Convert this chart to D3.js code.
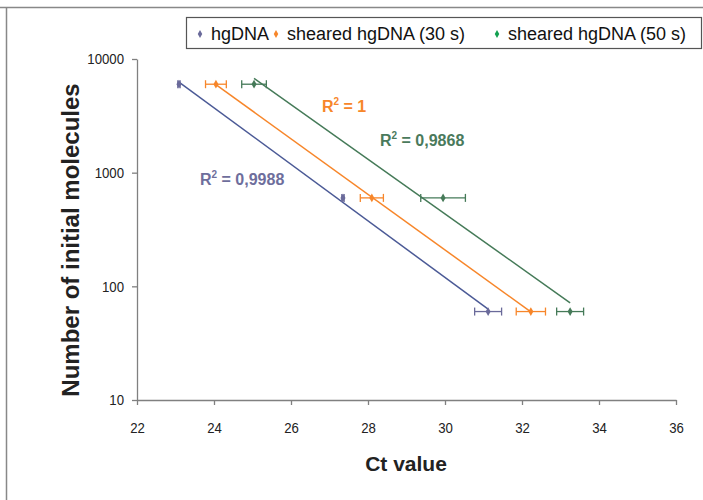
<!DOCTYPE html>
<html>
<head>
<meta charset="utf-8">
<script src="https://cdn.jsdelivr.net/npm/d3@7"></script>
<style>
  body { margin: 0; background: #fff; }
  text { font-family: "Liberation Sans", Arial, sans-serif; }
</style>
</head>
<body>
<svg id="chart" width="703" height="500"></svg>
<script>
var seriesNames = ["hgDNA", "sheared hgDNA (30 s)", "sheared hgDNA (50 s)"];
var molecules = [6000, 600, 60];
var ctHg = [23.09, 27.35, 31.12];
var ctHgErr = [0.03, 0.03, 0.35];
var ct30 = [24.05, 28.1, 32.23];
var ct30Err = [0.27, 0.3, 0.38];
var ct50 = [25.04, 29.95, 33.25];
var ct50Err = [0.32, 0.58, 0.35];
var r2Labels = ["0,9988", "1", "0,9868"];
var xTicks = [22, 24, 26, 28, 30, 32, 34, 36];
var yTicks = [10, 100, 1000, 10000];

var lineColors = ["#4b5a96", "#f7862a", "#457a58"];
var markColors = ["#6a6a9a", "#f7862a", "#457a58"];
var legendColors = ["#6a6a9a", "#f7862a", "#12a050"];
var labelColors = ["#6e6e9c", "#f7862a", "#4a7a5c"];

var width = 703, height = 500;
var plotLeft = 137, plotRight = 676, plotTop = 59, plotBottom = 400;

var svg = d3.select("#chart");

// frame lines
svg.append("line").attr("x1", 0).attr("x2", width).attr("y1", 7.5).attr("y2", 7.5)
  .attr("stroke", "#888").attr("stroke-width", 1.5);
svg.append("line").attr("x1", 6.5).attr("x2", 6.5).attr("y1", 7).attr("y2", height)
  .attr("stroke", "#888").attr("stroke-width", 1.5);

var x = d3.scaleLinear().domain([22, 36]).range([plotLeft, plotRight]);
var y = d3.scaleLog().domain([10, 10000]).range([plotBottom, plotTop]);

var xAxis = svg.append("g")
  .attr("transform", "translate(0," + plotBottom + ")")
  .call(d3.axisBottom(x).tickValues(xTicks).tickSize(5).tickSizeOuter(0).tickPadding(17));
var yAxis = svg.append("g")
  .attr("transform", "translate(" + plotLeft + ",0)")
  .call(d3.axisLeft(y).tickValues(yTicks).tickFormat(d3.format("d")).tickSize(5).tickSizeOuter(0).tickPadding(9.8));

[xAxis, yAxis].forEach(function(a){
  a.select(".domain").attr("stroke", "#808080").attr("stroke-width", 1.3);
  a.selectAll(".tick line").attr("stroke", "#808080").attr("stroke-width", 1.3);
  a.selectAll(".tick text").attr("fill", "#222").attr("font-size", "15px")
    .attr("transform", "scale(0.88,1)");
});

svg.append("text")
  .attr("x", 406).attr("y", 471)
  .attr("text-anchor", "middle")
  .attr("font-size", "21px").attr("font-weight", "bold").attr("fill", "#222")
  .text("Ct value");

svg.append("text")
  .attr("transform", "translate(79,240) rotate(-90)")
  .attr("text-anchor", "middle")
  .attr("font-size", "24px").attr("font-weight", "bold").attr("fill", "#222")
  .text("Number of initial molecules");

var series = [
  { ct: ctHg, err: ctHgErr },
  { ct: ct30, err: ct30Err },
  { ct: ct50, err: ct50Err }
];

// log-linear trendline (least squares on log10 of molecules)
function trend(ct) {
  var ly = molecules.map(function(m){ return Math.log10(m); });
  var mx = d3.mean(ct), my = d3.mean(ly);
  var sxy = 0, sxx = 0;
  ct.forEach(function(c, i){ sxy += (c - mx) * (ly[i] - my); sxx += (c - mx) * (c - mx); });
  var b = sxy / sxx;
  var x0 = d3.min(ct), x1 = d3.max(ct);
  return [[x0, Math.pow(10, my + b * (x0 - mx))], [x1, Math.pow(10, my + b * (x1 - mx))]];
}

var diamond = d3.symbol().type(d3.symbolDiamond).size(22);

series.forEach(function(s, k){
  var g = svg.append("g");
  var t = trend(s.ct);
  g.append("line")
    .attr("x1", x(t[0][0])).attr("y1", y(t[0][1]))
    .attr("x2", x(t[1][0])).attr("y2", y(t[1][1]))
    .attr("stroke", lineColors[k]).attr("stroke-width", 1.5);

  s.ct.forEach(function(c, i){
    var cy = y(molecules[i]);
    var xa = x(c - s.err[i]), xb = x(c + s.err[i]);
    g.append("line").attr("x1", xa).attr("x2", xb).attr("y1", cy).attr("y2", cy)
      .attr("stroke", markColors[k]).attr("stroke-width", 1.3);
    [xa, xb].forEach(function(xe){
      g.append("line").attr("x1", xe).attr("x2", xe).attr("y1", cy - 4).attr("y2", cy + 4)
        .attr("stroke", markColors[k]).attr("stroke-width", 1.3);
    });
    g.append("path").attr("d", diamond)
      .attr("transform", "translate(" + x(c) + "," + cy + ")")
      .attr("fill", markColors[k]);
  });
});

// R squared labels
var r2Pos = [[200, 185], [322, 112], [380, 146]];
r2Labels.forEach(function(r, k){
  var tx = svg.append("text")
    .attr("x", r2Pos[k][0]).attr("y", r2Pos[k][1])
    .attr("font-size", "16px").attr("font-weight", "bold").attr("fill", labelColors[k]);
  tx.append("tspan").text("R");
  tx.append("tspan").attr("font-size", "10px").attr("dy", -7).text("2");
  tx.append("tspan").attr("dy", 7).text(" = " + r);
});

// legend
var legend = svg.append("g");
legend.append("rect")
  .attr("x", 186.5).attr("y", 17.5).attr("width", 515).attr("height", 31)
  .attr("fill", "#fff").attr("stroke", "#555").attr("stroke-width", 1.2);
var legendX = [200, 276, 497];
seriesNames.forEach(function(n, k){
  legend.append("path").attr("d", d3.symbol().type(d3.symbolDiamond).size(18))
    .attr("transform", "translate(" + legendX[k] + ",34)")
    .attr("fill", legendColors[k]);
  legend.append("text")
    .attr("x", legendX[k] + 11).attr("y", 40)
    .attr("font-size", "18px").attr("fill", "#111")
    .text(n);
});
</script>
</body>
</html>
